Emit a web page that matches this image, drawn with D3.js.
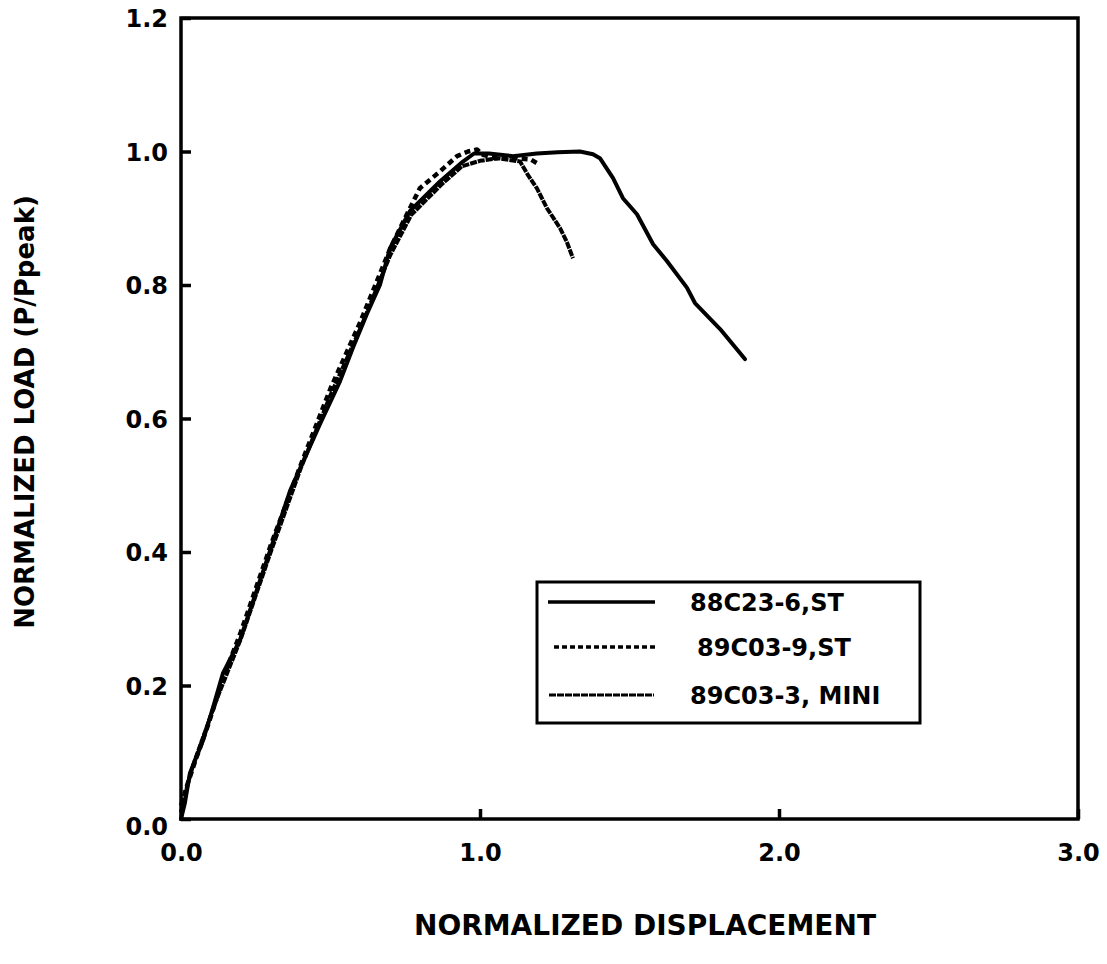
<!DOCTYPE html>
<html>
<head>
<meta charset="utf-8">
<script src="https://cdn.jsdelivr.net/npm/d3@7"></script>
<style>
  html, body { margin: 0; padding: 0; background: #fff; }
  svg { display: block; }
  text { font-family: "DejaVu Sans", "Liberation Sans", Arial, sans-serif; font-weight: bold; fill: #000; }
</style>
</head>
<body>
<svg id="chart" width="1107" height="964"></svg>
<script>
// ---- data ----
const seriesNames = ["88C23-6,ST", "89C03-9,ST", "89C03-3, MINI"];

const solidX = [0, 0.013, 0.03, 0.074, 0.107, 0.14, 0.197, 0.298, 0.365, 0.465, 0.532, 0.575, 0.622, 0.666, 0.699, 0.766, 0.866, 0.943, 0.98, 1.03, 1.11, 1.19, 1.26, 1.334, 1.378, 1.401, 1.445, 1.478, 1.525, 1.579, 1.625, 1.692, 1.719, 1.803, 1.886];
const solidY = [0.0, 0.024, 0.069, 0.118, 0.167, 0.218, 0.268, 0.402, 0.492, 0.592, 0.656, 0.706, 0.757, 0.801, 0.855, 0.911, 0.955, 0.985, 0.997, 0.997, 0.993, 0.997, 0.999, 1.0, 0.996, 0.99, 0.96, 0.93, 0.906, 0.861, 0.836, 0.796, 0.773, 0.734, 0.689];

const dashedX = [0, 0.02, 0.05, 0.09, 0.14, 0.2, 0.3, 0.4, 0.5, 0.6, 0.7, 0.749, 0.799, 0.866, 0.923, 0.96, 0.99, 1.01, 1.05, 1.12, 1.17, 1.2];
const dashedY = [0.02, 0.05, 0.09, 0.14, 0.21, 0.28, 0.41, 0.53, 0.645, 0.745, 0.855, 0.90, 0.945, 0.970, 0.993, 1.0, 1.003, 0.995, 0.99, 0.99, 0.988, 0.98];

const miniX = [0, 0.015, 0.04, 0.08, 0.12, 0.16, 0.2, 0.3, 0.4, 0.5, 0.6, 0.7, 0.77, 0.87, 0.94, 1.0, 1.06, 1.134, 1.16, 1.19, 1.224, 1.268, 1.29, 1.311];
const miniY = [0.01, 0.04, 0.08, 0.13, 0.18, 0.225, 0.27, 0.40, 0.525, 0.635, 0.735, 0.845, 0.905, 0.95, 0.978, 0.986, 0.99, 0.985, 0.965, 0.945, 0.915, 0.885, 0.865, 0.84];

const xTicks = [0, 1, 2, 3];
const xTickLabels = ["0.0", "1.0", "2.0", "3.0"];
const yTicks = [0, 0.2, 0.4, 0.6, 0.8, 1.0, 1.2];
const yTickLabels = ["0.0", "0.2", "0.4", "0.6", "0.8", "1.0", "1.2"];

const xTitle = "NORMALIZED DISPLACEMENT";
const yTitle = "NORMALIZED LOAD (P/Ppeak)";

// ---- layout ----
const padL = 181, padR = 1078, padT = 18, padB = 819;
const svg = d3.select("#chart");

const x = d3.scaleLinear().domain([0, 3]).range([padL, padR]);
const y = d3.scaleLinear().domain([0, 1.2]).range([padB, padT]);

// axes with inward ticks
const xAxis = d3.axisBottom(x).tickValues(xTicks)
  .tickFormat((d, i) => xTickLabels[i]).tickSizeInner(-10).tickSizeOuter(0).tickPadding(25);
const yAxis = d3.axisLeft(y).tickValues(yTicks)
  .tickFormat((d, i) => yTickLabels[i]).tickSizeInner(-10).tickSizeOuter(0).tickPadding(13);

const gx = svg.append("g").attr("transform", `translate(0,${padB})`).call(xAxis);
const gy = svg.append("g").attr("transform", `translate(${padL},0)`).call(yAxis);
[gx, gy].forEach(g => {
  g.select(".domain").remove();
  g.selectAll(".tick line").attr("stroke", "#000").attr("stroke-width", 3.5);
  g.selectAll(".tick text").style("font-size", "24px").attr("fill", "#000");
});
gy.selectAll(".tick text").attr("dy", "0.36em");
gy.selectAll(".tick").filter(d => d === 0).select("text").attr("dy", "0.66em");

// frame
svg.append("rect")
  .attr("x", padL).attr("y", padT)
  .attr("width", padR - padL).attr("height", padB - padT)
  .attr("fill", "none").attr("stroke", "#000").attr("stroke-width", 3.5);

// lines
const line = d3.line().x(d => x(d[0])).y(d => y(d[1])).curve(d3.curveLinear);
const series = [
  { xs: miniX, ys: miniY, dash: "7,1", width: 4, cap: "butt" },
  { xs: dashedX, ys: dashedY, dash: "6,4", width: 4.5, cap: "butt" },
  { xs: solidX, ys: solidY, dash: null, width: 4, cap: "round" }
];
series.forEach(s => {
  const pts = s.xs.map((v, i) => [v, s.ys[i]]);
  svg.append("path").datum(pts)
    .attr("d", line)
    .attr("fill", "none")
    .attr("stroke", "#000")
    .attr("stroke-width", s.width)
    .attr("stroke-linejoin", "round")
    .attr("stroke-linecap", s.cap)
    .attr("stroke-dasharray", s.dash);
});

// legend
const lg = svg.append("g");
lg.append("rect").attr("x", 537).attr("y", 582).attr("width", 383).attr("height", 141)
  .attr("fill", "#fff").attr("stroke", "#000").attr("stroke-width", 3);
const legendStyles = [
  { dash: null, width: 3.5, x1: 548, x2: 655, tx: 690 },
  { dash: "5,3", width: 3.5, x1: 554, x2: 655, tx: 697 },
  { dash: "7,1", width: 3, x1: 549, x2: 654, tx: 690 }
];
const rowY = [602, 647, 695];
seriesNames.forEach((name, i) => {
  const st = legendStyles[i];
  lg.append("line").attr("x1", st.x1).attr("x2", st.x2)
    .attr("y1", rowY[i]).attr("y2", rowY[i])
    .attr("stroke", "#000").attr("stroke-width", st.width)
    .attr("stroke-dasharray", st.dash);
  lg.append("text").attr("x", st.tx).attr("y", rowY[i]).attr("dy", "0.36em")
    .style("font-size", "24px").text(name);
});

// axis titles
svg.append("text").attr("x", 645).attr("y", 935)
  .attr("text-anchor", "middle").style("font-size", "28px").text(xTitle);
svg.append("text")
  .attr("transform", `translate(25,412) rotate(-90)`)
  .attr("text-anchor", "middle").attr("dy", "0.36em")
  .style("font-size", "26px").text(yTitle);
</script>
</body>
</html>
